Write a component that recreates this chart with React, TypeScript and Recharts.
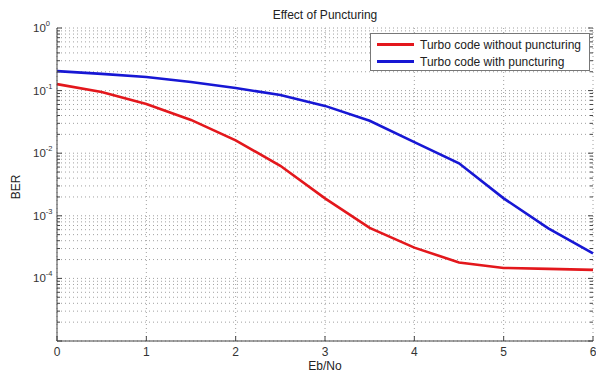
import React from 'react';
import { LineChart, Line, XAxis, YAxis, CartesianGrid, Legend } from 'recharts';

const ebNo = [0, 0.5, 1, 1.5, 2, 2.5, 3, 3.5, 4, 4.5, 5, 5.5, 6];
const berWithoutPuncturing = [0.127, 0.095, 0.061, 0.034, 0.016, 0.0063, 0.0019, 0.00064, 0.00031, 0.00018, 0.000147, 0.000142, 0.000137];
const berWithPuncturing = [0.205, 0.185, 0.165, 0.137, 0.11, 0.085, 0.057, 0.033, 0.015, 0.0069, 0.0019, 0.00063, 0.00025];
const xTicks = [0, 1, 2, 3, 4, 5, 6];
const decadeExponents = [-5, -4, -3, -2, -1, 0];
const labeledExponents = [-4, -3, -2, -1, 0];
const minorMultipliers = [2, 3, 4, 5, 6, 7, 8, 9];
const seriesNames = ['Turbo code without puncturing', 'Turbo code with puncturing'];
const seriesColors = ['#e3171c', '#1717d4'];

const data = ebNo.map((x, i) => ({
  x,
  a: berWithoutPuncturing[i],
  b: berWithPuncturing[i],
}));

const yTicks: number[] = [];
decadeExponents.forEach((e) => {
  yTicks.push(Math.pow(10, e));
  if (e < 0) minorMultipliers.forEach((m) => yTicks.push(m * Math.pow(10, e)));
});
yTicks.sort((p, q) => p - q);

const FONT = 'Liberation Sans, Arial, Helvetica, sans-serif';
const PLOT_LEFT = 57;
const PLOT_RIGHT = 593;
const PLOT_BOTTOM = 341;

const YTick = (props: any) => {
  const { y, payload } = props;
  const v = payload.value as number;
  const e = Math.round(Math.log10(v));
  const isMajor = Math.abs(Math.log10(v) - e) < 1e-6;
  const len = isMajor ? 5 : 3;
  return (
    <g>
      <line x1={PLOT_LEFT} x2={PLOT_LEFT + len} y1={y} y2={y} stroke="#444" strokeWidth={1} />
      <line x1={PLOT_RIGHT - len} x2={PLOT_RIGHT} y1={y} y2={y} stroke="#444" strokeWidth={1} />
      {isMajor && labeledExponents.includes(e) ? (
        <text x={33} y={y + 4} fontFamily={FONT} fontSize={11.5} fill="#333" textAnchor="start">
          <tspan>10</tspan>
          <tspan dy={-6} fontSize={7.5}>{e}</tspan>
        </text>
      ) : null}
    </g>
  );
};

const XTick = (props: any) => {
  const { x, payload } = props;
  return (
    <g>
      <line x1={x} x2={x} y1={PLOT_BOTTOM} y2={PLOT_BOTTOM - 5} stroke="#444" strokeWidth={1} />
      <text x={x} y={356} fontFamily={FONT} fontSize={12} fill="#333" textAnchor="middle">
        {payload.value}
      </text>
    </g>
  );
};

const LegendBox = () => (
  <div
    style={{
      border: '1px solid #777',
      background: '#fff',
      width: 220,
      height: 38,
      boxSizing: 'border-box',
      padding: '2px 0 0 6px',
      fontFamily: FONT,
      fontSize: 12,
      color: '#222',
    }}
  >
    {seriesNames.map((n, i) => (
      <div key={n} style={{ display: 'flex', alignItems: 'center', height: 17 }}>
        <div style={{ width: 37, height: 3, background: seriesColors[i], marginRight: 6 }} />
        <span>{n}</span>
      </div>
    ))}
  </div>
);

export default function App() {
  return (
    <div style={{ position: 'absolute', left: 0, top: 0, width: 596, height: 372, background: '#fff' }}>
      <LineChart
        width={596}
        height={372}
        data={data}
        margin={{ top: 28, right: 3, bottom: 0, left: 0 }}
      >
        <text x={325} y={19} textAnchor="middle" fontFamily={FONT} fontSize={12} fill="#222">
          Effect of Puncturing
        </text>
        <text
          x={20}
          y={187}
          textAnchor="middle"
          fontFamily={FONT}
          fontSize={12}
          fill="#222"
          transform="rotate(-90 20 187)"
        >
          BER
        </text>
        <text x={325} y={370} textAnchor="middle" fontFamily={FONT} fontSize={12} fill="#222">
          Eb/No
        </text>
        <CartesianGrid
          stroke="#a0a0a0"
          strokeDasharray="1 3"
          strokeWidth={1}
          horizontalValues={yTicks}
          verticalValues={xTicks}
        />
        <XAxis
          dataKey="x"
          type="number"
          domain={[0, 6]}
          ticks={xTicks}
          height={31}
          tick={<XTick />}
          tickLine={false}
          tickSize={0}
          stroke="#444"
          interval={0}
        />
        <XAxis xAxisId="top" orientation="top" dataKey="x" type="number" domain={[0, 6]} height={0} tick={false} tickLine={false} stroke="#444" />
        <YAxis
          type="number"
          scale="log"
          domain={[1e-5, 1]}
          ticks={yTicks}
          allowDataOverflow
          width={57}
          tick={<YTick />}
          tickLine={false}
          tickSize={0}
          stroke="#444"
          interval={0}
        />
        <YAxis yAxisId="right" orientation="right" width={0} tick={false} tickLine={false} stroke="#444" />
        <Legend
          layout="vertical"
          align="center"
          verticalAlign="middle"
          content={<LegendBox />}
          wrapperStyle={{ left: 370, top: 33, width: 220 }}
        />
        <Line
          dataKey="a"
          name={seriesNames[0]}
          stroke={seriesColors[0]}
          strokeWidth={2.6}
          dot={false}
          isAnimationActive={false}
          type="linear"
        />
        <Line
          dataKey="b"
          name={seriesNames[1]}
          stroke={seriesColors[1]}
          strokeWidth={2.6}
          dot={false}
          isAnimationActive={false}
          type="linear"
        />
      </LineChart>
    </div>
  );
}
